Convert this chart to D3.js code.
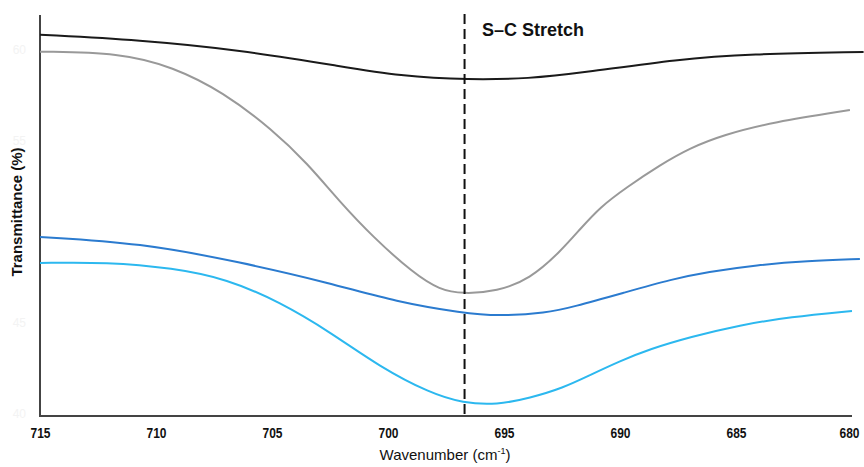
<!DOCTYPE html>
<html>
<head>
<meta charset="utf-8">
<script src="https://cdn.jsdelivr.net/npm/d3@7"></script>
<style>
  body { margin: 0; background: #fff; }
  svg { display: block; }
</style>
</head>
<body>
<svg width="864" height="467"></svg>
<script>
// wavenumber (cm-1) and transmittance (%)
const blackWn = [715, 710.7, 706.4, 702.1, 699.5, 696.5, 693.9, 691.7, 687.4, 684.5, 679.5];
const blackT = [60.84, 60.55, 60.0, 59.12, 58.57, 58.35, 58.43, 58.74, 59.51, 59.78, 59.89];

const grayWn = [715, 711.55, 709.27, 707.11, 704.96, 703.49, 702.07, 700.65, 698.92, 697.76, 696.77, 695.3, 693.88, 692.59, 691.72, 690.86, 689.7, 688.28, 686.98, 685.56, 683.41, 680.09];
const grayT = [59.91, 59.84, 59.07, 57.69, 55.6, 53.79, 51.65, 49.73, 47.75, 46.81, 46.6, 46.73, 47.42, 48.9, 50.16, 51.37, 52.47, 53.68, 54.62, 55.33, 56.04, 56.7];

const blueWn = [715, 710.69, 706.38, 702.5, 699.61, 696.77, 695.3, 693.15, 692.03, 689.87, 687.72, 686.25, 684.09, 681.94, 679.66];
const blueT = [49.73, 49.4, 48.35, 47.2, 46.15, 45.55, 45.38, 45.55, 45.88, 46.65, 47.42, 47.8, 48.19, 48.41, 48.52];

const cyanWn = [715, 712.11, 709.27, 706.94, 704.66, 702.5, 700.34, 698.19, 696.77, 695.3, 693.88, 692.46, 691.29, 690.0, 688.71, 686.98, 684.83, 682.67, 680];
const cyanT = [48.3, 48.35, 48.02, 47.42, 46.15, 44.51, 42.58, 41.15, 40.6, 40.5, 40.88, 41.43, 42.14, 42.91, 43.57, 44.23, 44.89, 45.33, 45.66];

const xTicks = [715, 710, 705, 700, 695, 690, 685, 680];
const yTicks = [60, 55, 45, 40];
const markerWn = 696.7;
const markerLabel = "S–C Stretch";

const svg = d3.select("svg");

const x = d3.scaleLinear().domain([715, 680]).range([40, 852]);
const y = d3.scaleLinear().domain([40, 60]).range([414, 50]);

// axes
svg.append("g")
  .attr("transform", "translate(0,416)")
  .call(d3.axisBottom(x).tickValues(xTicks).tickSize(0).tickPadding(11).tickFormat(d3.format("d")))
  .call(g => g.select(".domain").attr("d", "M40,0H852").attr("stroke", "#444").attr("stroke-width", 2))
  .call(g => g.selectAll("text")
    .attr("font-family", "Arial, sans-serif")
    .attr("font-weight", "bold")
    .attr("font-size", 15)
    .attr("textLength", 20)
    .attr("lengthAdjust", "spacingAndGlyphs")
    .attr("fill", "#111")
    .attr("dx", d => d === 680 ? -3 : 0));

svg.append("g")
  .attr("transform", "translate(40,0)")
  .call(d3.axisLeft(y).tickValues(yTicks).tickSize(0).tickPadding(14))
  .call(g => g.select(".domain").attr("d", "M0,15V417").attr("stroke", "#444").attr("stroke-width", 2))
  .call(g => g.selectAll("text")
    .attr("font-family", "Arial, sans-serif")
    .attr("font-size", 12)
    .attr("fill", "#f3f3f3"));

// curves
const series = [
  { wn: blackWn, t: blackT, color: "#1a1a1a", width: 2 },
  { wn: grayWn, t: grayT, color: "#999999", width: 2 },
  { wn: blueWn, t: blueT, color: "#2b7bcf", width: 2 },
  { wn: cyanWn, t: cyanT, color: "#2cb8ef", width: 2 }
];

const line = d3.line()
  .x(d => x(d[0]))
  .y(d => y(d[1]))
  .curve(d3.curveBasis);

series.forEach(s => {
  svg.append("path")
    .datum(d3.zip(s.wn, s.t))
    .attr("d", line)
    .attr("fill", "none")
    .attr("stroke", s.color)
    .attr("stroke-width", s.width);
});

// dashed marker line
svg.append("line")
  .attr("x1", x(markerWn)).attr("x2", x(markerWn))
  .attr("y1", 14).attr("y2", 416)
  .attr("stroke", "#111")
  .attr("stroke-width", 2)
  .attr("stroke-dasharray", "10,5");

svg.append("text")
  .attr("x", 482).attr("y", 36)
  .attr("font-family", "Arial, sans-serif")
  .attr("font-weight", "bold")
  .attr("font-size", 18)
  .attr("fill", "#111")
  .text(markerLabel);

// axis titles
svg.append("text")
  .attr("transform", "translate(22,212) rotate(-90)")
  .attr("text-anchor", "middle")
  .attr("font-family", "Arial, sans-serif")
  .attr("font-weight", "bold")
  .attr("font-size", 15)
  .attr("fill", "#111")
  .text("Transmittance (%)");

const xt = svg.append("text")
  .attr("x", 445).attr("y", 460)
  .attr("text-anchor", "middle")
  .attr("font-family", "Arial, sans-serif")
  .attr("font-size", 15)
  .attr("fill", "#111");
xt.append("tspan").text("Wavenumber (cm");
xt.append("tspan").attr("font-size", 9).attr("dy", -6).text("-1");
xt.append("tspan").attr("dy", 6).text(")");
</script>
</body>
</html>
